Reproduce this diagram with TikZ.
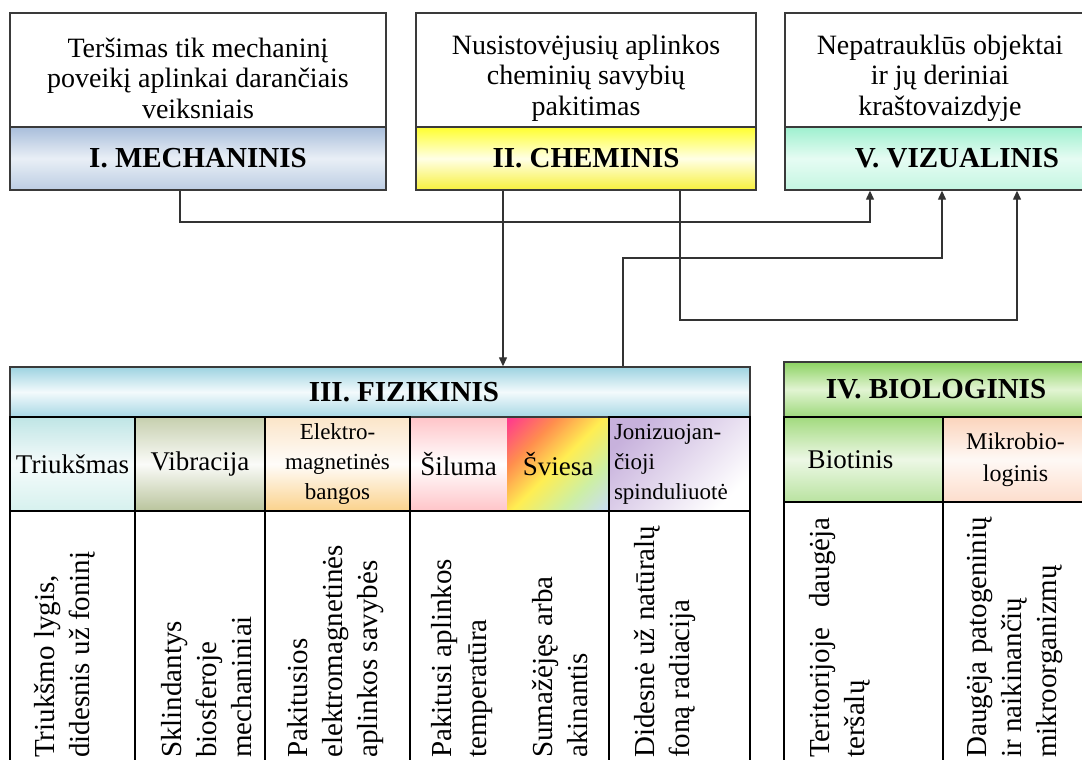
\documentclass[tikz,border=0pt]{standalone}
\usepackage{fontspec}
\setmainfont{Liberation Serif}
\usetikzlibrary{arrows.meta,positioning}

\definecolor{edge}{HTML}{3A3A3A}
\definecolor{mechA}{HTML}{A9BEDB}
\definecolor{mechB}{HTML}{E9EFF6}
\definecolor{mechC}{HTML}{BCCDE3}
\definecolor{chemA}{HTML}{FFFF2E}
\definecolor{chemB}{HTML}{FFFFE6}
\definecolor{chemC}{HTML}{F7F03C}
\definecolor{vizA}{HTML}{9EF0CF}
\definecolor{vizB}{HTML}{E6FCF3}
\definecolor{vizC}{HTML}{C4F6E2}
\definecolor{fizA}{HTML}{9DD3E1}
\definecolor{fizB}{HTML}{F3FAFC}
\definecolor{fizC}{HTML}{A8D8E5}
\definecolor{bioA}{HTML}{8CD262}
\definecolor{bioB}{HTML}{E2F4D3}
\definecolor{bioC}{HTML}{9ED97C}
\definecolor{noiseA}{HTML}{BFE5E5}
\definecolor{noiseC}{HTML}{D6F1EE}
\definecolor{vibA}{HTML}{C6CFAE}
\definecolor{vibC}{HTML}{B9C49C}
\definecolor{emwA}{HTML}{FBE5C8}
\definecolor{emwC}{HTML}{FBD28C}
\definecolor{heatA}{HTML}{FFC4C8}
\definecolor{radA}{HTML}{C7B1DC}
\definecolor{biotA}{HTML}{A2DA7E}
\definecolor{biotC}{HTML}{B9E3A0}
\definecolor{mikA}{HTML}{FBD4BC}
\definecolor{mikC}{HTML}{FDDDCC}
\definecolor{rbA}{HTML}{FF3C8C}
\definecolor{rbB}{HTML}{FF8E4E}
\definecolor{rbC}{HTML}{FFEE52}
\definecolor{rbD}{HTML}{CDEFA4}
\definecolor{rbE}{HTML}{C8DDF6}

\pgfdeclarehorizontalshading{rainbow}{100bp}{color(0bp)=(rbA); color(16bp)=(rbA); color(33bp)=(rbB); color(50bp)=(rbC); color(68bp)=(rbD); color(85bp)=(rbE); color(100bp)=(rbE)}

\tikzset{
  box/.style={draw=edge, line width=1.4pt, fill=white, inner sep=0pt},
  head/.style={draw=edge, line width=1.4pt, inner sep=0pt, font=\fontsize{29}{30}\selectfont\bfseries},
  cell/.style={draw=black, line width=1.6pt, inner sep=0pt},
  toptext/.style={align=center, inner sep=0pt, font=\fontsize{28}{30.5}\selectfont},
  celltext/.style={align=center, font=\fontsize{27}{30}\selectfont},
  smalltext/.style={align=center, font=\fontsize{23}{30}\selectfont},
  vtext/.style={rotate=90, anchor=west, align=left, inner sep=0pt, font=\fontsize{29}{35}\selectfont},
  conn/.style={draw=black!80, line width=1.3pt},
  arr/.style={conn, -{Triangle[length=9pt,width=8pt]}},
}

\begin{document}
\begin{tikzpicture}[x=1pt,y=-1pt]
\useasboundingbox (0,0) rectangle (1082,760);
\clip (0,0) rectangle (1082,760);
\fill[white] (0,0) rectangle (1082,760);

% top row
\node[box, minimum width=376pt, minimum height=114pt] (mechtop) at (198,70) {};
\node[head, minimum width=376pt, minimum height=63pt, top color=mechA, bottom color=mechC, middle color=mechB] (mech) at (198,158.5) {I. MECHANINIS\hspace{26pt}};
\node[box, minimum width=340pt, minimum height=114pt] (chemtop) at (586,70) {};
\node[head, minimum width=340pt, minimum height=63pt, top color=chemA, bottom color=chemC, middle color=chemB] (chem) at (586,158.5) {II. CHEMINIS\hspace{18pt}};
\node[box, minimum width=315pt, minimum height=114pt] (viztop) at (942.5,70) {};
\node[head, minimum width=315pt, minimum height=63pt, top color=vizA, bottom color=vizC, middle color=vizB] (viz) at (942.5,158.5) {\hspace{29pt}V. VIZUALINIS};

\node[toptext] (mechtxt) at (198,78) {Teršimas tik mechaninį\\poveikį aplinkai darančiais\\veiksniais};
\node[toptext] (chemtxt) at (586,78) {Nusistovėjusių aplinkos\\cheminių savybių\\pakitimas};
\node[toptext] (viztxt) at (940,78) {Nepatrauklūs objektai\\ir jų deriniai\\kraštovaizdyje};

% III
\node[inner sep=0pt, minimum width=97pt, minimum height=94pt, celltext, top color=heatA, bottom color=heatA, middle color=white] (heat) at (458.5,464) {Šiluma};
\node[inner sep=0pt, minimum width=102pt, minimum height=94pt, celltext, shading=rainbow, shading angle=-45] (light) at (558,464) {Šviesa};
\node[head, minimum width=740pt, minimum height=50pt, top color=fizA, bottom color=fizC, middle color=fizB] (fiz) at (380,392) {\hspace{48pt}III. FIZIKINIS};
\node[cell, celltext, minimum width=125pt, minimum height=94pt, top color=noiseA, bottom color=noiseC, middle color=white!85!noiseA] (noise) at (72.5,464) {Triukšmas};
\node[cell, celltext, minimum width=130pt, minimum height=94pt, top color=vibA, bottom color=vibC, middle color=white!92!vibA] (vib) at (200,464) {Vibracija};
\node[cell, smalltext, minimum width=145pt, minimum height=94pt, top color=emwA, bottom color=emwC, middle color=white!90!emwA] (emw) at (337.5,464) {Elektro-\\magnetinės\\bangos};
\node[cell, smalltext, align=left, text width=131pt, inner xsep=5pt, minimum height=94pt, top color=radA, bottom color=white, shading angle=45] (rad) at (679.5,464) {Jonizuojan-\\čioji\\spinduliuotė};

\node[cell, fill=white, minimum width=125pt, minimum height=269pt] (noisebox) at (72.5,645.5) {};
\node[cell, fill=white, minimum width=130pt, minimum height=269pt] (vibbox) at (200,645.5) {};
\node[cell, fill=white, minimum width=145pt, minimum height=269pt] (emwbox) at (337.5,645.5) {};
\node[cell, fill=white, minimum width=199pt, minimum height=269pt] (heatbox) at (509.5,645.5) {};
\node[cell, fill=white, minimum width=141pt, minimum height=269pt] (radbox) at (679.5,645.5) {};

\node[vtext] (noisetxt) at (65,758) {Triukšmo lygis,\\didesnis už foninį};
\node[vtext] (vibtxt) at (207,758) {Sklindantys\\biosferoje\\mechaniniai};
\node[vtext] (emwtxt) at (336,758) {Pakitusios\\elektromagnetinės\\aplinkos savybės};
\node[vtext] (heattxt) at (462,758) {Pakitusi aplinkos\\temperatūra};
\node[vtext] (lighttxt) at (560,758) {Sumažėjęs arba\\akinantis};
\node[vtext] (radtxt) at (665,758) {Didesnė už natūralų\\foną radiacija};

% IV
\node[head, minimum width=304pt, minimum height=55pt, top color=bioA, bottom color=bioC, middle color=bioB] (bio) at (936,389.5) {IV. BIOLOGINIS};
\node[cell, celltext, minimum width=159pt, minimum height=85pt, top color=biotA, bottom color=biotC, middle color=white!80!biotA] (biot) at (863.5,459.5) {Biotinis\hspace{26pt}};
\node[cell, align=center, font=\fontsize{24}{32}\selectfont, minimum width=145pt, minimum height=85pt, top color=mikA, bottom color=mikC, middle color=white!85!mikA] (mikro) at (1015.5,459.5) {Mikrobio-\\loginis};
\node[cell, fill=white, minimum width=159pt, minimum height=278pt] (biotbox) at (863.5,641) {};
\node[cell, fill=white, minimum width=145pt, minimum height=278pt] (mikrobox) at (1015.5,641) {};

\node[vtext] (biottxt) at (840,758) {Teritorijoje\hspace{20pt}daugėja\\teršalų};
\node[vtext] (mikrotxt) at (1015,758) {Daugėja patogeninių\\ir naikinančių\\mikroorganizmų};

% connectors
\coordinate (k1) at (180,222);
\coordinate (k2) at (870,222);
\coordinate (k3) at (503,300);
\coordinate (k4) at (680,320);
\coordinate (k5) at (1017,320);
\coordinate (k6) at (623,258);
\coordinate (k7) at (942,258);

\draw[arr] (mech.south -| k1) -- (k1) -- (k2) -- (viz.south -| k2);
\draw[arr] (chem.south -| k3) -- (fiz.north -| k3);
\draw[arr] (chem.south -| k4) -- (k4) -- (k5) -- (viz.south -| k5);
\draw[arr] (fiz.north -| k6) -- (k6) -- (k7) -- (viz.south -| k7);
\end{tikzpicture}
\end{document}
